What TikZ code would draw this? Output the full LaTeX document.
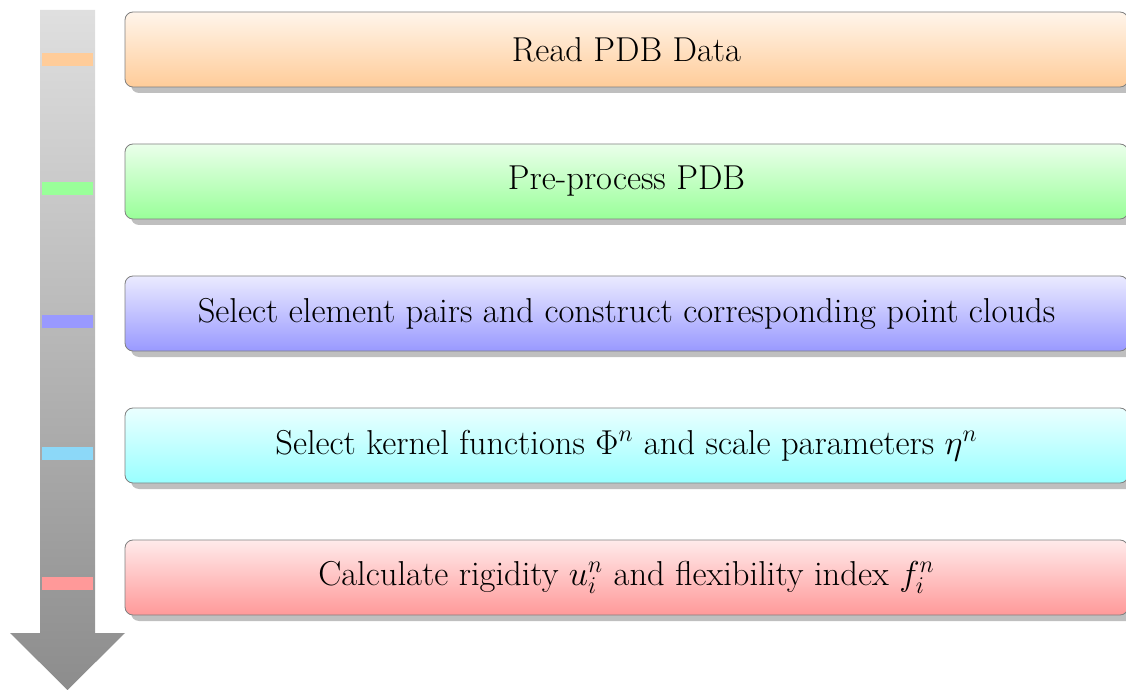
\documentclass[tikz,border=0pt]{standalone}
\usepackage{amsmath, amssymb}
\usetikzlibrary{positioning,calc}
\usetikzlibrary{shadows}

\definecolor{markcyan}{RGB}{140,216,248}

\begin{document}
\begin{tikzpicture}[x=0.5pt, y=-0.5pt,
  stepbox/.style={draw=gray, rounded corners=4pt, minimum width=501.5pt, minimum height=37.5pt,
    font=\LARGE, drop shadow={shadow xshift=3pt, shadow yshift=-3pt, opacity=0.5}},
  marker/.style={minimum width=25.5pt, minimum height=6.5pt, inner sep=0pt}]
\useasboundingbox (0,0) rectangle (1126,690);

% flow arrow at the left
\shade[top color=gray!25, bottom color=gray!90] (40,10) -- (95,10) -- (95,633) -- (125,633)
  -- (67.5,690) -- (10,633) -- (40,633) -- cycle;

\foreach \name/\y/\my/\col/\mcol/\txt in {
  read/49.5/59.5/orange/orange!40/{Read PDB Data},
  prep/181.5/188.5/green/green!40/{Pre-process PDB},
  pairs/313.5/321.5/blue/blue!40/{Select element pairs and construct corresponding point clouds},
  kern/445.5/453.5/cyan/markcyan/{Select kernel functions $\Phi^n$ and scale parameters $\eta^n$},
  calc/577.5/583.5/red/red!40/{Calculate rigidity $u_i^n$ and flexibility index $f_i^n$}} {
  \node (\name) [stepbox, top color=\col!8, bottom color=\col!40] at (626.5,\y) {\txt};
  \node (\name m) [marker, fill=\mcol] at (67.5,\my) {};
}
\end{tikzpicture}
\end{document}
